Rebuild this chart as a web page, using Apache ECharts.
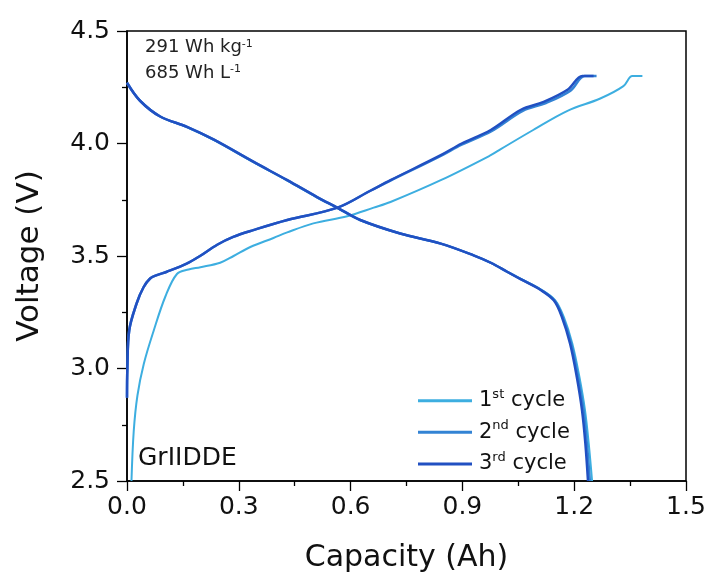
<!DOCTYPE html>
<html>
<head>
<meta charset="utf-8">
<script src="https://cdn.jsdelivr.net/npm/echarts@6/dist/echarts.min.js"></script>
<style>html,body{margin:0;padding:0;background:#fff}#c{width:712px;height:581px}</style>
</head>
<body>
<div id="c"></div>
<script>
// ---- data (capacity Ah, voltage V) ----
const xTicks = [0.0, 0.3, 0.6, 0.9, 1.2, 1.5];
const yTicks = [2.5, 3.0, 3.5, 4.0, 4.5];
const seriesNames = ['1st cycle', '2nd cycle', '3rd cycle'];
const seriesColors = ['#3DAEE0', '#3383D4', '#2150C2'];

const cycle1Charge = [
  [0.012, 2.50], [0.018, 2.72], [0.028, 2.88], [0.045, 3.02], [0.072, 3.17],
  [0.103, 3.32], [0.134, 3.42], [0.165, 3.44], [0.197, 3.45], [0.25, 3.47],
  [0.286, 3.50], [0.331, 3.54], [0.393, 3.58], [0.43, 3.605], [0.50, 3.645],
  [0.591, 3.677], [0.662, 3.715], [0.707, 3.74], [0.842, 3.837], [0.976, 3.948],
  [1.003, 3.975], [1.09, 4.06], [1.182, 4.145], [1.27, 4.20], [1.332, 4.255],
  [1.356, 4.30], [1.383, 4.30]
];
const cycle1Discharge = [
  [0.0, 4.27], [0.035, 4.19], [0.089, 4.12], [0.161, 4.072], [0.232, 4.016],
  [0.34, 3.916], [0.43, 3.835], [0.51, 3.76], [0.564, 3.713], [0.626, 3.659],
  [0.733, 3.60], [0.842, 3.555], [0.93, 3.503], [0.976, 3.47], [1.02, 3.43],
  [1.058, 3.397], [1.112, 3.35], [1.149, 3.303], [1.172, 3.229], [1.195, 3.11],
  [1.214, 2.962], [1.229, 2.814], [1.239, 2.666], [1.248, 2.50]
];
const cycle2Charge = [
  [0.0, 2.87], [0.001, 3.0], [0.006, 3.17], [0.026, 3.29], [0.044, 3.36],
  [0.062, 3.40], [0.08, 3.415], [0.107, 3.43], [0.16, 3.466], [0.196, 3.50],
  [0.242, 3.55], [0.285, 3.585], [0.339, 3.615], [0.43, 3.66], [0.565, 3.715],
  [0.653, 3.79], [0.707, 3.835], [0.842, 3.945], [0.898, 3.995], [0.978, 4.055],
  [1.062, 4.145], [1.124, 4.18], [1.19, 4.235], [1.228, 4.30], [1.26, 4.30]
];
const cycle2Discharge = [
  [0.0, 4.27], [0.035, 4.19], [0.089, 4.12], [0.161, 4.074], [0.232, 4.018],
  [0.34, 3.918], [0.43, 3.837], [0.51, 3.762], [0.564, 3.715], [0.626, 3.66],
  [0.733, 3.60], [0.842, 3.555], [0.93, 3.503], [0.976, 3.47], [1.02, 3.43],
  [1.057, 3.397], [1.11, 3.35], [1.147, 3.303], [1.169, 3.229], [1.192, 3.11],
  [1.21, 2.962], [1.225, 2.814], [1.234, 2.666], [1.242, 2.50]
];
const cycle3Charge = [
  [0.0, 2.87], [0.001, 3.0], [0.006, 3.17], [0.026, 3.29], [0.044, 3.36],
  [0.062, 3.40], [0.08, 3.415], [0.107, 3.43], [0.16, 3.466], [0.196, 3.50],
  [0.242, 3.55], [0.285, 3.585], [0.339, 3.615], [0.43, 3.66], [0.565, 3.715],
  [0.653, 3.79], [0.707, 3.837], [0.842, 3.948], [0.898, 4.0], [0.976, 4.06],
  [1.057, 4.15], [1.118, 4.185], [1.183, 4.24], [1.222, 4.30], [1.252, 4.30]
];
const cycle3Discharge = [
  [0.0, 4.27], [0.035, 4.19], [0.089, 4.12], [0.161, 4.074], [0.232, 4.018],
  [0.34, 3.918], [0.43, 3.837], [0.51, 3.762], [0.564, 3.715], [0.626, 3.66],
  [0.733, 3.60], [0.842, 3.555], [0.93, 3.503], [0.976, 3.47], [1.02, 3.43],
  [1.056, 3.397], [1.109, 3.35], [1.145, 3.303], [1.167, 3.229], [1.189, 3.11],
  [1.207, 2.962], [1.221, 2.814], [1.23, 2.666], [1.237, 2.50]
];

const curves = [
  [cycle1Charge, cycle1Discharge],
  [cycle2Charge, cycle2Discharge],
  [cycle3Charge, cycle3Discharge]
];

const FONT = 'DejaVu Sans';
const chart = echarts.init(document.getElementById('c'), null, {renderer: 'canvas'});

const series = [];
curves.forEach((pair, i) => {
  pair.forEach(d => {
    series.push({
      type: 'line', name: seriesNames[i], data: d,
      showSymbol: false, symbol: 'none',
      smooth: 0.35,
      lineStyle: {color: seriesColors[i], width: i === 0 ? 2 : 2.5},
      itemStyle: {color: seriesColors[i]},
      emphasis: {disabled: true}, animation: false
    });
  });
});

const legendRows = [387.7, 419.3, 451];
const legends = seriesNames.map((n, i) => ({
  data: [n], left: 418, top: legendRows[i], orient: 'vertical', padding: 0,
  icon: 'rect', itemWidth: 54, itemHeight: 3,
  selectedMode: false,
  formatter: name => {
    const m = name.match(/^(\d)([a-z]+) (.*)$/);
    return '{n|' + m[1] + '}{s|' + m[2] + '}{n| ' + m[3] + '}';
  },
  textStyle: {
    color: '#111', fontFamily: FONT, fontSize: 21, padding: [0, 0, 0, 2],
    rich: {
      n: {fontFamily: FONT, fontSize: 21, lineHeight: 26, color: '#111', verticalAlign: 'middle'},
      s: {fontFamily: FONT, fontSize: 13, lineHeight: 13, color: '#111', verticalAlign: 'top'}
    }
  }
}));

const axisCommon = {
  axisLine: {show: true, onZero: false, lineStyle: {color: '#000', width: 1.5}},
  axisTick: {show: true, inside: false, length: 10, lineStyle: {color: '#000', width: 1.3}},
  minorTick: {show: true, splitNumber: 2, length: 5, lineStyle: {color: '#000', width: 1.3}},
  splitLine: {show: false},
  minorSplitLine: {show: false}
};

chart.setOption({
  animation: false,
  backgroundColor: '#fff',
  grid: {left: 127, right: 26, top: 31, bottom: 100, show: true, borderColor: '#000', borderWidth: 1.5, backgroundColor: 'transparent'},
  legend: legends,
  xAxis: Object.assign({
    type: 'value', min: xTicks[0], max: xTicks[xTicks.length - 1], interval: xTicks[1] - xTicks[0],
    name: 'Capacity (Ah)', nameLocation: 'middle', nameGap: 62,
    nameTextStyle: {fontFamily: FONT, fontSize: 30, color: '#111'},
    axisLabel: {fontFamily: FONT, fontSize: 25, color: '#111', margin: 14, formatter: v => v.toFixed(1)}
  }, axisCommon),
  yAxis: Object.assign({
    type: 'value', min: yTicks[0], max: yTicks[yTicks.length - 1], interval: yTicks[1] - yTicks[0],
    name: 'Voltage (V)', nameLocation: 'middle', nameGap: 82,
    nameTextStyle: {fontFamily: FONT, fontSize: 31, color: '#111'},
    axisLabel: {fontFamily: FONT, fontSize: 25, color: '#111', margin: 17, formatter: v => v.toFixed(1)}
  }, axisCommon),
  graphic: [
    {type: 'text', x: 145, y: 38.5, silent: true, style: {
      text: '{n|291 Wh kg}{s|-1}', fill: '#222',
      rich: {n: {fontFamily: FONT, fontSize: 18, lineHeight: 22, fill: '#222', verticalAlign: 'top'},
             s: {fontFamily: FONT, fontSize: 11, lineHeight: 11, fill: '#222', verticalAlign: 'top'}}
    }},
    {type: 'text', x: 145, y: 64, silent: true, style: {
      text: '{n|685 Wh L}{s|-1}', fill: '#222',
      rich: {n: {fontFamily: FONT, fontSize: 18, lineHeight: 22, fill: '#222', verticalAlign: 'top'},
             s: {fontFamily: FONT, fontSize: 11, lineHeight: 11, fill: '#222', verticalAlign: 'top'}}
    }},
    {type: 'text', x: 138, y: 446, silent: true, style: {
      text: 'GrIIDDE', fill: '#111', font: '25px "DejaVu Sans"', verticalAlign: 'top'
    }}
  ],
  series: series
});
</script>
</body>
</html>
